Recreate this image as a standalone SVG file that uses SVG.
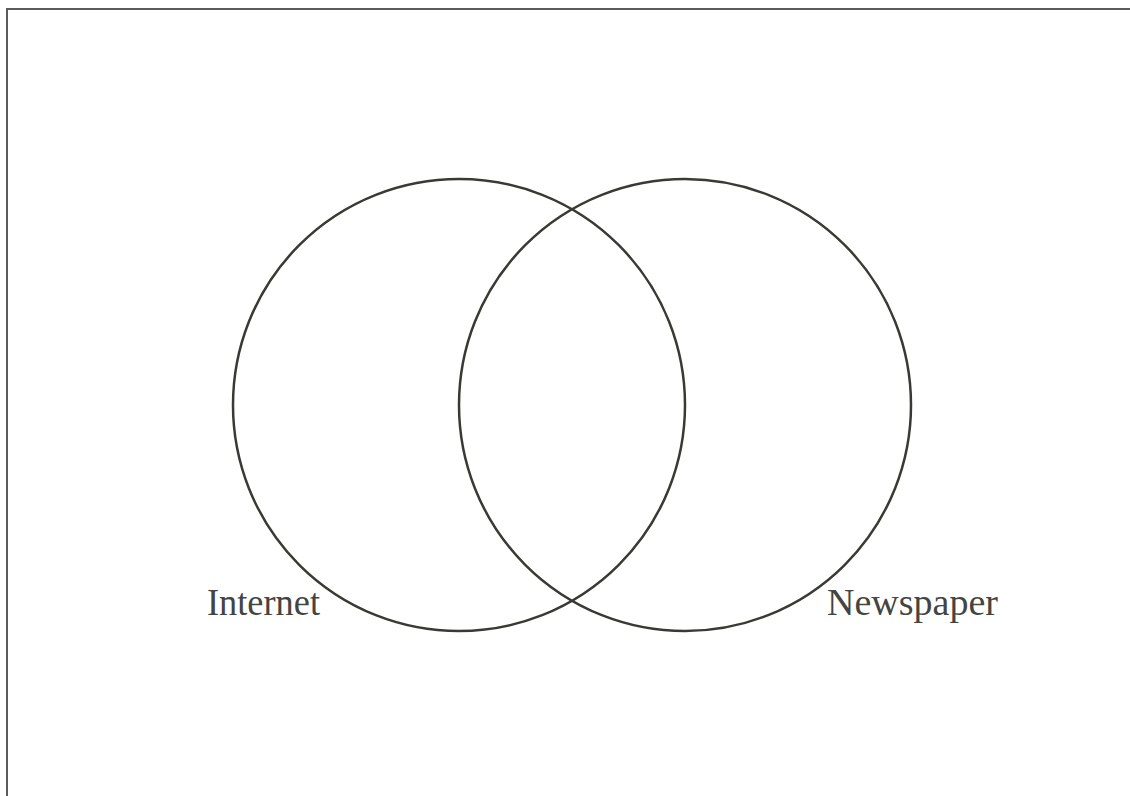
<svg xmlns="http://www.w3.org/2000/svg" width="1130" height="796" viewBox="0 0 1130 796">
<style>
.frame{stroke:#5b5c57;stroke-width:2;fill:none}
.set{fill:none;stroke:#3a3a35;stroke-width:2.5}
.lbl{font-family:"Liberation Serif",serif;font-size:38px;fill:#444440}
</style>
<rect width="1130" height="796" fill="#fff"/>
<path class="frame" d="M1130 9 H7 V796"/>
<g id="internet">
<circle class="set" cx="459" cy="405" r="226"/>
<text class="lbl" x="207" y="615" textLength="113" lengthAdjust="spacingAndGlyphs">Internet</text>
</g>
<g id="newspaper">
<circle class="set" cx="685" cy="405" r="226"/>
<text class="lbl" x="827" y="615">Newspaper</text>
</g>
<g id="connectors"></g>
</svg>
